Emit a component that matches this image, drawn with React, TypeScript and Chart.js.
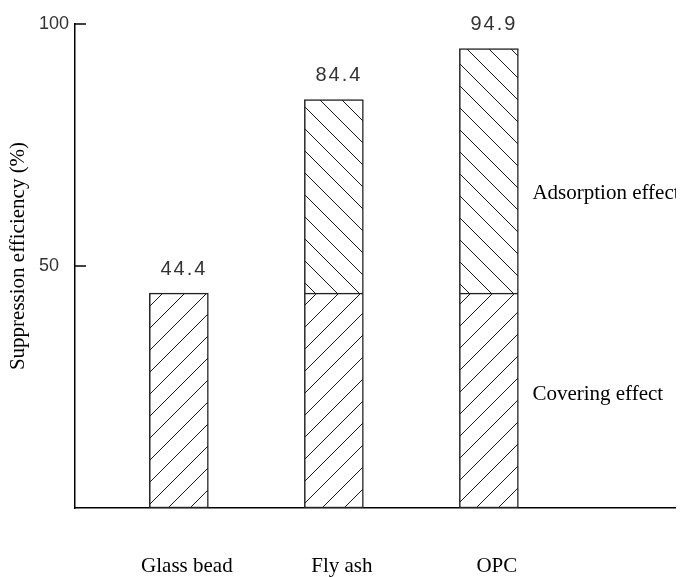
import React, { useEffect, useRef } from 'react';
import { Chart, registerables } from 'chart.js';

Chart.register(...registerables);

// ---- data ----
const categories = ['Glass bead', 'Fly ash', 'OPC'];
const coveringEffect = [44.4, 44.4, 44.4];
const adsorptionEffect: (number | null)[] = [null, 40.0, 50.5];
const totalLabels = [44.4, 84.4, 94.9];
const yTickValues = [50, 100];
const seriesNames = ['Covering effect', 'Adsorption effect'];
const seriesNameAt = [23.5, 65];
const yTitle = 'Suppression efficiency (%)';

function makeHatch(dir: '/' | '\\'): CanvasPattern | string {
  const s = 22;
  const c = document.createElement('canvas');
  c.width = s;
  c.height = s;
  const g = c.getContext('2d');
  if (!g) return '#fff';
  g.fillStyle = '#fff';
  g.fillRect(0, 0, s, s);
  g.strokeStyle = '#1a1a1a';
  g.lineWidth = 1;
  g.beginPath();
  if (dir === '/') {
    g.moveTo(-1, s + 1); g.lineTo(s + 1, -1);
    g.moveTo(-1, 1); g.lineTo(1, -1);
    g.moveTo(s - 1, s + 1); g.lineTo(s + 1, s - 1);
  } else {
    g.moveTo(-1, -1); g.lineTo(s + 1, s + 1);
    g.moveTo(s - 1, -1); g.lineTo(s + 1, 1);
    g.moveTo(-1, s - 1); g.lineTo(1, s + 1);
  }
  g.stroke();
  const p = g.createPattern(c, 'repeat');
  return p || '#fff';
}

const serif = '"Liberation Serif", "Times New Roman", serif';
const sans = '"Liberation Sans", Arial, sans-serif';

const overlayPlugin = {
  id: 'overlay',
  afterDraw(chart: any) {
    const { ctx, chartArea, scales } = chart;
    const x = scales.x;
    const y = scales.y;
    ctx.save();
    // inward tick marks on y axis
    ctx.strokeStyle = '#000';
    ctx.lineWidth = 1.5;
    yTickValues.forEach((v) => {
      const py = Math.round(y.getPixelForValue(v));
      ctx.beginPath();
      ctx.moveTo(chartArea.left, py);
      ctx.lineTo(chartArea.left + 11, py);
      ctx.stroke();
    });
    // value labels
    ctx.font = '20px ' + sans;
    (ctx as any).letterSpacing = '2px';
    ctx.fillStyle = '#333';
    ctx.textAlign = 'center';
    ctx.textBaseline = 'middle';
    totalLabels.forEach((v, i) => {
      const px = x.getPixelForValue(i + 1);
      const py = y.getPixelForValue(v);
      ctx.fillText(v.toFixed(1), px + 5, py - 24);
    });
    (ctx as any).letterSpacing = '0px';
    // series names beside last bar
    const bar = chart.getDatasetMeta(0).data[categories.length - 1];
    const lx = bar.x + bar.width / 2 + 14;
    ctx.font = '21px ' + serif;
    ctx.fillStyle = '#000';
    ctx.textAlign = 'left';
    seriesNames.forEach((name, i) => {
      ctx.fillText(name, lx, y.getPixelForValue(seriesNameAt[i]));
    });
    // y axis title
    ctx.translate(10, (chartArea.top + chartArea.bottom) / 2 - 10);
    ctx.rotate(-Math.PI / 2);
    ctx.textAlign = 'center';
    ctx.fillText(yTitle, 0, 0);
    ctx.restore();
  },
};

export default function App() {
  const ref = useRef<HTMLCanvasElement | null>(null);
  useEffect(() => {
    if (!ref.current) return;
    const fwd = makeHatch('/');
    const back = makeHatch('\\');
    const chart = new Chart(ref.current, {
      type: 'bar',
      data: {
        datasets: [
          {
            label: seriesNames[0],
            data: categories.map((_, i) => ({ x: i + 1, y: coveringEffect[i] })),
            backgroundColor: fwd as any,
            borderColor: '#222',
            borderWidth: 1.5,
            borderSkipped: false,
            barThickness: 59,
          },
          {
            label: seriesNames[1],
            data: categories.map((_, i) => ({ x: i + 1, y: adsorptionEffect[i] })),
            backgroundColor: back as any,
            borderColor: '#222',
            borderWidth: 1.5,
            borderSkipped: 'bottom',
            barThickness: 59,
          },
        ],
      },
      options: {
        responsive: false,
        devicePixelRatio: 1,
        animation: false,
        layout: { padding: { left: 31, top: 16, right: 6, bottom: 0 } },
        plugins: { legend: { display: false }, tooltip: { enabled: false } },
        scales: {
          x: {
            type: 'linear',
            stacked: true,
            offset: false,
            min: 0.33,
            max: 4.22,
            grid: { display: false, drawTicks: false },
            border: { display: true, color: '#000', width: 1.5 },
            ticks: {
              color: '#000',
              font: { family: serif, size: 21 },
              padding: 46,
              labelOffset: 8,
              autoSkip: false,
              maxRotation: 0,
              callback: (v: any) => categories[Number(v) - 1] ?? '',
            },
            afterBuildTicks: (s: any) => {
              s.ticks = categories.map((_, i) => ({ value: i + 1 }));
            },
            afterFit: (s: any) => {
              s.height = 69;
            },
          },
          y: {
            type: 'linear',
            stacked: true,
            min: 0,
            max: 100,
            grid: { display: false, drawTicks: false },
            border: { display: true, color: '#000', width: 1.5 },
            ticks: {
              color: '#333',
              crossAlign: 'far',
              font: { family: sans, size: 18 },
            },
            afterBuildTicks: (s: any) => {
              s.ticks = yTickValues.map((v) => ({ value: v }));
            },
            afterFit: (s: any) => {
              s.width = 36;
            },
          },
        },
      } as any,
      plugins: [overlayPlugin],
    });
    return () => chart.destroy();
  }, []);
  return (
    <div style={{ width: 676, height: 569 }}>
      <canvas ref={ref} width={676} height={569} style={{ display: 'block' }} />
    </div>
  );
}
